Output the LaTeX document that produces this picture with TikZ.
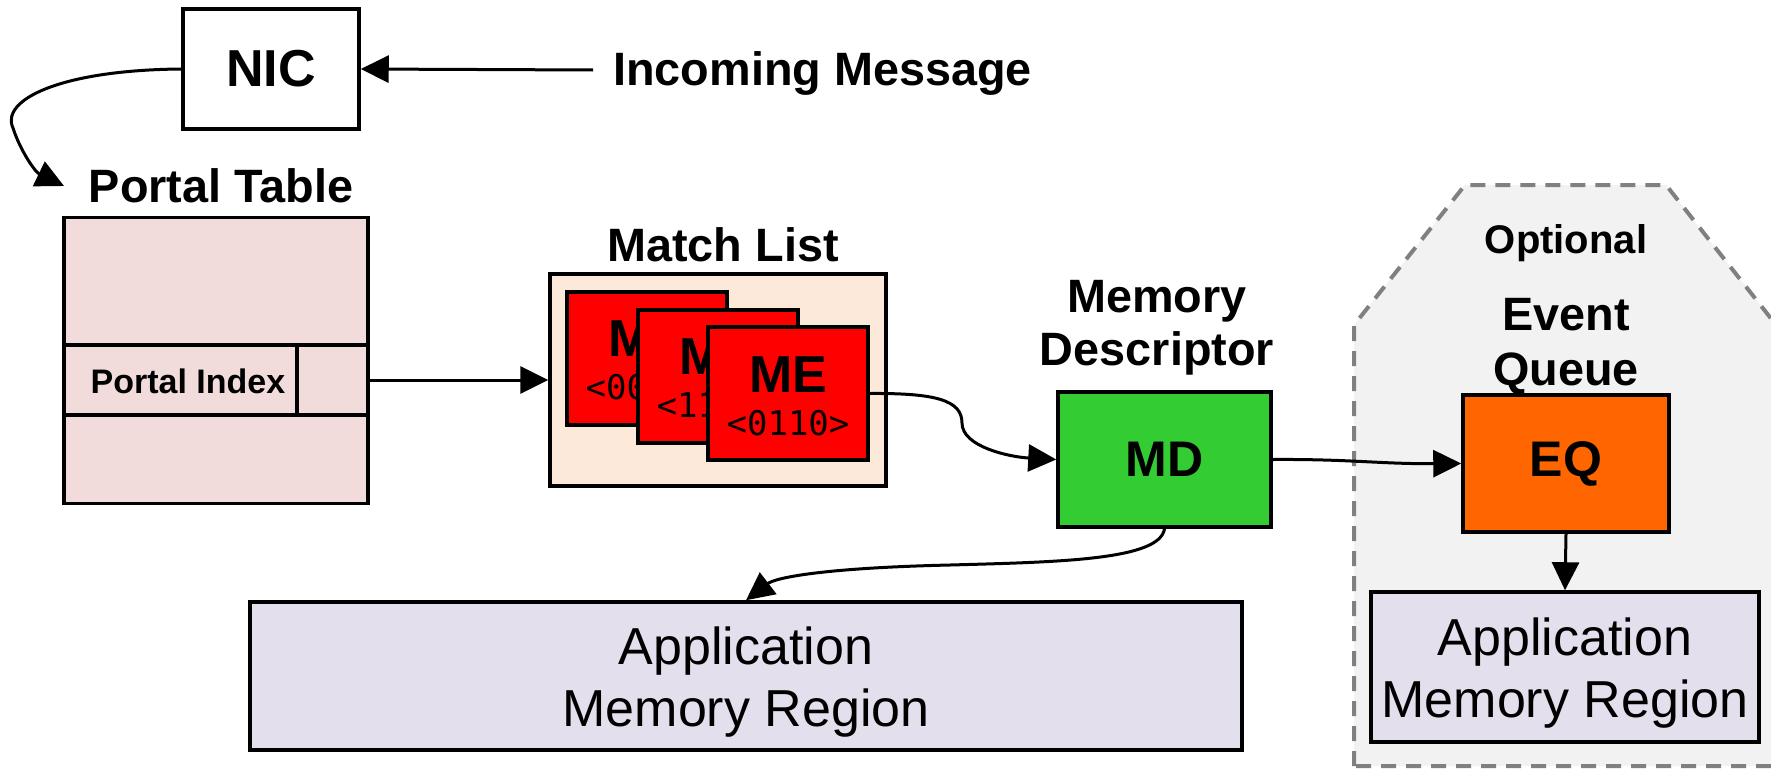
\documentclass[tikz,border=0pt]{standalone}
\usepackage{fontspec}
\setmainfont{Liberation Sans}
\newfontfamily\bitsfont{DejaVu Sans Mono}
\usetikzlibrary{arrows.meta}

\definecolor{ptpink}{RGB}{242,220,219}
\definecolor{mlbg}{RGB}{253,233,217}
\definecolor{mered}{RGB}{255,0,0}
\definecolor{mdgreen}{RGB}{51,204,51}
\definecolor{eqorange}{RGB}{255,102,0}
\definecolor{appbg}{RGB}{228,223,236}
\definecolor{optbg}{RGB}{242,242,242}
\definecolor{optedge}{RGB}{128,128,128}

\begin{document}
\begin{tikzpicture}[x=1pt,y=-1pt,
  box/.style={draw=black, line width=3.5pt, inner sep=0pt},
  arr/.style={line width=3pt, -{Triangle[length=28pt,width=27pt]}},
  lab/.style={font=\fontsize{46.8}{53}\selectfont\bfseries, align=center, inner sep=0pt},
  big/.style={font=\fontsize{52}{60}\selectfont\bfseries},
  card/.style={box, line width=4pt, fill=mered, minimum width=160pt, minimum height=133pt},
  metext/.style={font=\fontsize{52}{60}\selectfont\bfseries, inner sep=0pt, anchor=base},
  bits/.style={font=\fontsize{34}{40}\selectfont\bitsfont, inner sep=0pt, anchor=base},
  app/.style={box, fill=appbg, align=center, font=\fontsize{52}{62}\selectfont},
  optline/.style={draw=optedge, line width=4pt, dash pattern=on 15pt off 10pt}
]
\useasboundingbox (0,0) rectangle (1771,768);
\fill[white] (0,0) rectangle (1771,768);

% optional event-queue region
\draw[optline, fill=optbg] (1354,766) -- (1354,325) -- (1465,185) -- (1666,185)
  -- (1780,330) -- (1780,766) -- cycle;

% NIC and incoming message
\node[box, minimum width=176pt, minimum height=120pt, big] (nic) at (271,69) {NIC};
\node[lab, anchor=base west] (inmsg) at (613,85) {Incoming Message};
\coordinate (insrc) at (593,70);
\draw[arr] (insrc) -- (nic.east);

% portal table
\node[lab, anchor=base] (ptlabel) at (221,202) {Portal Table};
\node[box, fill=ptpink, minimum width=304pt, minimum height=286pt] (ptable) at (216,360.5) {};
\node[box, line width=4.5pt, fill=ptpink, minimum width=233pt, minimum height=70pt] (pidx) at (180.5,380) {};
\node[font=\fontsize{34}{40}\selectfont\bfseries, anchor=base, inner sep=0pt] (pidxtext) at (188,393) {Portal Index};
\node[box, line width=4.5pt, fill=ptpink, minimum width=71pt, minimum height=70pt] (pcell) at (332.5,380) {};
\coordinate (ptin) at (64,186);
\draw[arr] (nic.west) .. controls (60,70) and (0,100) .. (13,128)
  .. controls (20,150) and (35,172) .. (ptin);

% match list with its stacked entries (only the front one fully visible)
\node[lab, anchor=base] (mllabel) at (723,261) {Match List};
\node[box, fill=mlbg, minimum width=336pt, minimum height=212pt] (ml) at (718,380) {};
\node[card] (me1) at (647,358) {};
\node[metext, anchor=base west] (me1t) at (608,356.5) {M};
\node[bits, anchor=base west] (me1b) at (585.5,399.5) {<00};
\node[card] (me2) at (718,376) {};
\node[metext, anchor=base west] (me2t) at (679,374.5) {M};
\node[bits, anchor=base west] (me2b) at (656.5,417.5) {<11};
\node[card] (me3) at (788,393.5) {};
\node[metext] (me3t) at (788,392) {ME};
\node[bits] (me3b) at (788,435) {<0110>};
\draw[arr] (pcell.east) -- (ml.west);

% memory descriptor
\node[lab] (mdlabel) at (1157,328) {Memory\\Descriptor};
\node[box, fill=mdgreen, minimum width=213pt, minimum height=135pt,
  font=\fontsize{50}{60}\selectfont\bfseries] (md) at (1164.5,459.5) {MD};
\draw[arr] (me3.east) .. controls (935,393) and (962,400) .. (962,423)
  .. controls (962,447) and (1010,457) .. (md.west);

% event queue
\node[font=\fontsize{40}{48}\selectfont\bfseries, anchor=base, inner sep=0pt] (opt) at (1566,253) {Optional};
\node[lab, font=\fontsize{46.8}{55}\selectfont\bfseries] (eqlabel) at (1566,347) {Event\\Queue};
\node[box, fill=eqorange, minimum width=206pt, minimum height=137pt,
  font=\fontsize{50}{60}\selectfont\bfseries] (eq) at (1566,463.5) {EQ};
\draw[arr] (md.east) .. controls (1350,459) and (1380,464) .. (eq.west);

% application memory regions
\node[app, minimum width=992pt, minimum height=148pt] (app1) at (746,676)
  {\rule{0pt}{49pt}Application\\Memory Region};
\node[app, minimum width=388pt, minimum height=150pt] (app2) at (1565,667)
  {\rule{0pt}{49pt}Application\\Memory Region};
\draw[arr] (eq.south) -- (app2.north);
\draw[arr] (md.south) .. controls (1160,560) and (1060,562) .. (950,565)
  .. controls (820,568) and (775,578) .. (app1.north);
\end{tikzpicture}
\end{document}
